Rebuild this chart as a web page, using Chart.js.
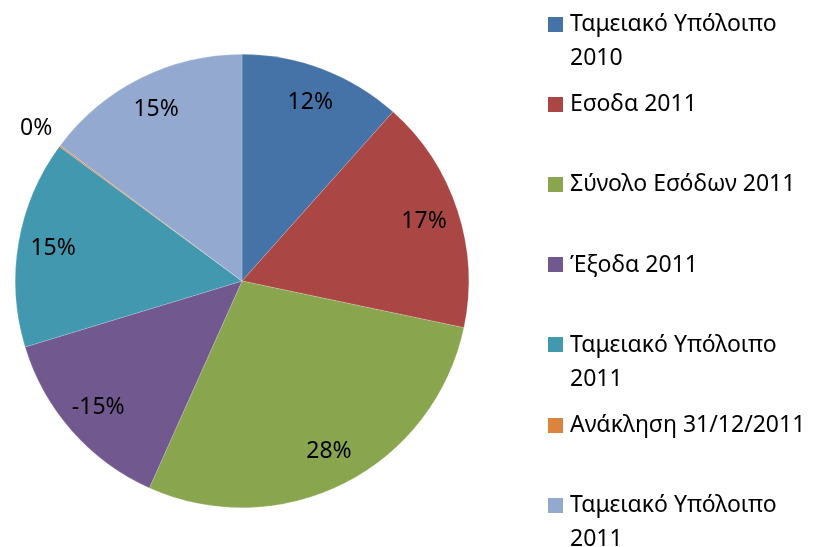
<!DOCTYPE html>
<html>
<head>
<meta charset="utf-8">
<script src="https://cdn.jsdelivr.net/npm/chart.js@4"></script>
<style>
    body { margin: 0; background: #fff; font-family: "Noto Sans", sans-serif; }
    #wrap { position: relative; width: 815px; height: 547px; }
    #legend { position: absolute; left: 548px; top: 0; }
    .item { position: absolute; left: 0; width: 267px; }
    .swatch { position: absolute; left: 0; top: 11.5px; width: 15px; height: 15px; }
    .text { margin-left: 22px; width: 243px; font-size: 23px; line-height: 34px; color: #000; }
</style>
</head>
<body>
<div id="wrap">
    <canvas id="pieChart" width="815" height="547"></canvas>
    <div id="legend"></div>
</div>
<script>
// Slice categories (legend order)
const categories = [
    'Ταμειακό Υπόλοιπο 2010',
    'Εσοδα 2011',
    'Σύνολο Εσόδων 2011',
    'Έξοδα 2011',
    'Ταμειακό Υπόλοιπο 2011',
    'Ανάκληση 31/12/2011',
    'Ταμειακό Υπόλοιπο 2011'
];

// Values (negative = expenses)
const values = [11.6, 16.7, 28.4, -13.6, 14.8, 0.1, 14.8];

// Percent labels as printed on the slices
const shownPercents = [12, 17, 28, -15, 15, 0, 15];

const colors = ['#4572A7', '#AA4643', '#89A54E', '#71588F', '#4198AF', '#DB843D', '#93A9CF'];

// HTML legend so the long names can wrap like the original
function buildLegend() {
    const legend = document.getElementById('legend');
    categories.forEach((name, i) => {
        const item = document.createElement('div');
        item.className = 'item';
        item.style.top = (5 + i * 80.2) + 'px';
        item.innerHTML = '<div class="swatch" style="background:' + colors[i] + '"></div>' +
            '<div class="text">' + name + '</div>';
        legend.appendChild(item);
    });
}

// Draw the percent labels inside the slices (tiny slices go outside)
const sliceLabels = {
    id: 'sliceLabels',
    afterDatasetsDraw(chart) {
        const ctx = chart.ctx;
        const meta = chart.getDatasetMeta(0);
        const total = values.reduce((s, v) => s + Math.abs(v), 0);
        ctx.save();
        ctx.font = '23px "Noto Sans", sans-serif';
        ctx.fillStyle = '#000';
        ctx.textAlign = 'center';
        ctx.textBaseline = 'middle';
        meta.data.forEach((arc, i) => {
            const p = arc.getProps(['x', 'y', 'startAngle', 'endAngle', 'outerRadius']);
            const mid = (p.startAngle + p.endAngle) / 2;
            const frac = Math.abs(values[i]) / total;
            const r = frac < 0.02 ? p.outerRadius * 1.13 : p.outerRadius * 0.845;
            ctx.fillText(shownPercents[i] + '%', p.x + Math.cos(mid) * r, p.y + Math.sin(mid) * r);
        });
        ctx.restore();
    }
};

function initPieChart() {
    const ctx = document.getElementById('pieChart').getContext('2d');
    new Chart(ctx, {
        type: 'pie',
        data: {
            labels: categories,
            datasets: [{
                data: values.map(v => Math.abs(v)),
                backgroundColor: colors,
                borderColor: 'rgba(255,255,255,0.35)',
                borderWidth: 0.5
            }]
        },
        options: {
            responsive: false,
            animation: false,
            layout: {
                padding: { left: 15, top: 54, right: 346, bottom: 39 }
            },
            plugins: {
                legend: { display: false },
                tooltip: { enabled: false }
            }
        },
        plugins: [sliceLabels]
    });
}

buildLegend();
initPieChart();
</script>
</body>
</html>
